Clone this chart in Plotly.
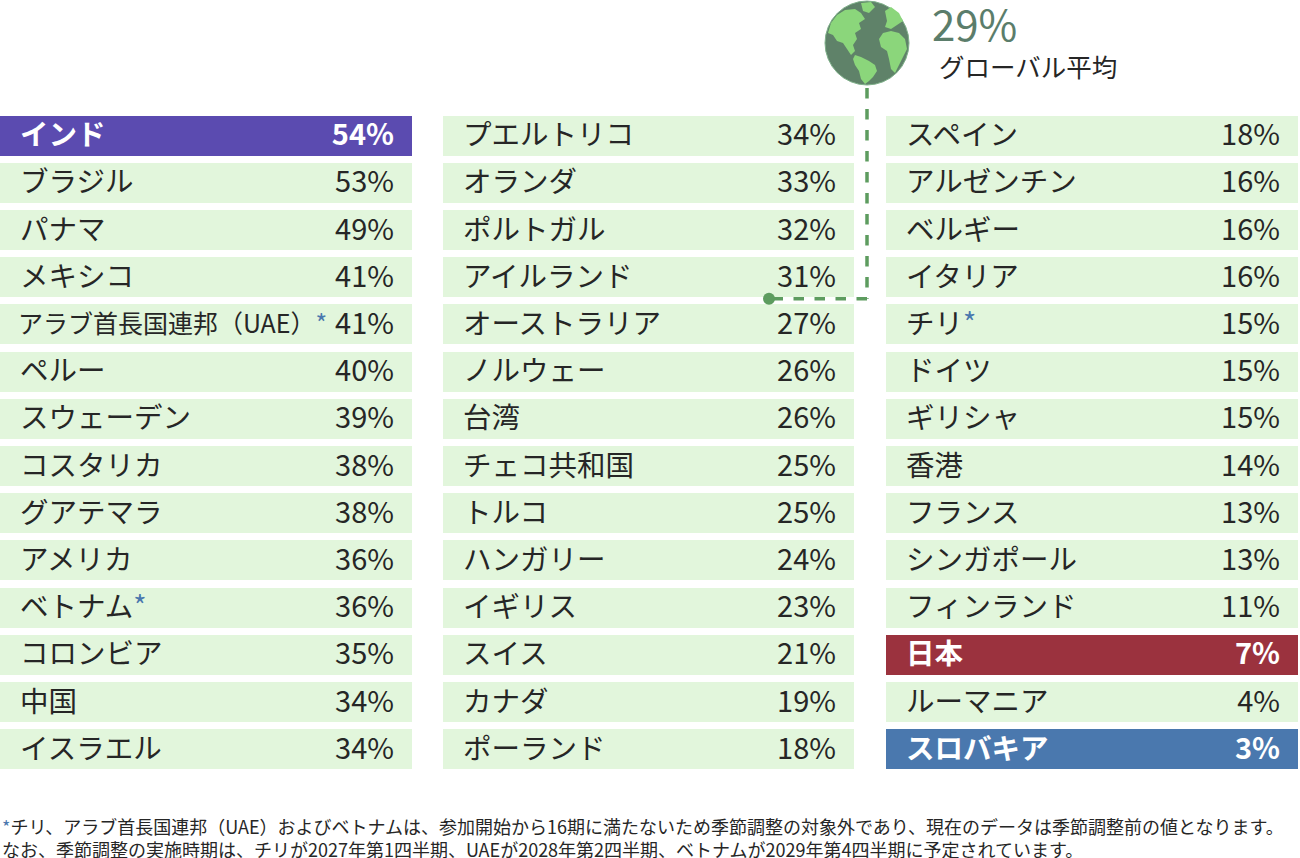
import plotly.graph_objects as go

# ---------------- data ----------------
countries = [
    "インド", "ブラジル", "パナマ", "メキシコ", "アラブ首長国連邦（UAE）*", "ペルー", "スウェーデン",
    "コスタリカ", "グアテマラ", "アメリカ", "ベトナム*", "コロンビア", "中国", "イスラエル",
    "プエルトリコ", "オランダ", "ポルトガル", "アイルランド", "オーストラリア", "ノルウェー", "台湾",
    "チェコ共和国", "トルコ", "ハンガリー", "イギリス", "スイス", "カナダ", "ポーランド",
    "スペイン", "アルゼンチン", "ベルギー", "イタリア", "チリ*", "ドイツ", "ギリシャ",
    "香港", "フランス", "シンガポール", "フィンランド", "日本", "ルーマニア", "スロバキア",
]
values = [
    54, 53, 49, 41, 41, 40, 39, 38, 38, 36, 36, 35, 34, 34,
    34, 33, 32, 31, 27, 26, 26, 25, 25, 24, 23, 21, 19, 18,
    18, 16, 16, 16, 15, 15, 15, 14, 13, 13, 11, 7, 4, 3,
]
highlights = {"インド": "#5b4bb0", "日本": "#9b323e", "スロバキア": "#4a78ae"}
global_avg = 29
global_label = "グローバル平均"
footnote_lines = [
    "<span style='color:#4a78ae'>*</span>チリ、アラブ首長国連邦（UAE）およびベトナムは、参加開始から16期に満たないため季節調整の対象外であり、現在のデータは季節調整前の値となります。",
    "なお、季節調整の実施時期は、チリが2027年第1四半期、UAEが2028年第2四半期、ベトナムが2029年第4四半期に予定されています。",
]

# ---------------- layout constants ----------------
FONT = "Noto Sans CJK JP"
ROWS = 14
ROW_TOP0 = 115.5
PITCH = 47.2
ROW_H = 40
COL_LEFT = [0, 443, 886]
COL_W = [412, 411, 412]
NAME_PAD = 20
VAL_PAD = 18
BG = "#e2f6dc"
TXT = "#262626"
STAR = "<span style='color:#4a78ae'>*</span>"
NAME_SIZE = 28.5
VAL_SIZE = 29
TEXT_DY = 2.5

fig = go.Figure()

for c in range(3):
    names = countries[c * ROWS:(c + 1) * ROWS]
    vals = values[c * ROWS:(c + 1) * ROWS]
    ys = [ROW_TOP0 + PITCH * i + ROW_H / 2 for i in range(len(names))]
    tys = [y + TEXT_DY for y in ys]
    colors = [highlights.get(n, BG) for n in names]
    fig.add_trace(go.Bar(
        orientation="h", y=ys, x=[COL_W[c]] * len(names), base=[COL_LEFT[c]] * len(names),
        width=ROW_H, marker=dict(color=colors, line=dict(width=0)),
        hoverinfo="skip", showlegend=False,
    ))
    name_txt, val_txt, name_col, val_col, name_sz, name_x = [], [], [], [], [], []
    for n, v in zip(names, vals):
        hl = n in highlights
        label = n.replace("*", STAR)
        name_txt.append(f"<b>{label}</b>" if hl else label)
        val_txt.append(f"<b>{v}%</b>" if hl else f"{v}%")
        name_col.append("white" if hl else TXT)
        val_col.append("white" if hl else TXT)
        long = len(n) > 10
        name_sz.append(25 if long else NAME_SIZE)
        name_x.append(COL_LEFT[c] + NAME_PAD - (2 if long else 0))
    fig.add_trace(go.Scatter(
        x=name_x, y=tys,
        mode="text", text=name_txt, textposition="middle right",
        textfont=dict(family=FONT, size=name_sz, color=name_col),
        hoverinfo="skip", showlegend=False,
    ))
    fig.add_trace(go.Scatter(
        x=[COL_LEFT[c] + COL_W[c] - VAL_PAD] * len(vals), y=tys,
        mode="text", text=val_txt, textposition="middle left",
        textfont=dict(family=FONT, size=VAL_SIZE, color=val_col),
        hoverinfo="skip", showlegend=False,
    ))

# ---------------- global average marker ----------------
idx = next(i for i, v in enumerate(values) if v < global_avg)
col = idx // ROWS
row = idx % ROWS
y_mark = ROW_TOP0 + PITCH * row - (PITCH - ROW_H) / 2 - 2
gx, gy, gr = 867, 43, 42
line_x = gx
dot_x = COL_LEFT[col] + COL_W[col] - 85
LINE_C = "#5d9c5f"

shapes = []
shapes.append(dict(type="line", x0=line_x, x1=line_x, y0=gy + gr + 3, y1=y_mark,
                   line=dict(color=LINE_C, width=3.5, dash="dash"), layer="above"))
shapes.append(dict(type="line", x0=line_x, x1=dot_x, y0=y_mark, y1=y_mark,
                   line=dict(color=LINE_C, width=3.5, dash="dash"), layer="above"))
shapes.append(dict(type="circle", x0=dot_x - 6, x1=dot_x + 6, y0=y_mark - 6, y1=y_mark + 6,
                   fillcolor=LINE_C, line=dict(width=0), layer="above"))

# globe
OCEAN = "#5f8269"
LAND = "#8bd67b"
shapes.append(dict(type="circle", x0=gx - gr, x1=gx + gr, y0=gy - gr, y1=gy + gr,
                   fillcolor=OCEAN, line=dict(color="#7fb08a", width=1), layer="above"))


def P(pts):
    return "M " + " L ".join(f"{gx + dx},{gy + dy}" for dx, dy in pts) + " Z"


land_paths = [
    # North America
    [(-36, -20), (-30, -28), (-22, -33), (-12, -34), (-6, -30), (-2, -24), (-8, -20), (-6, -14),
     (-12, -10), (-10, -4), (-14, 2), (-12, 8), (-16, 12), (-20, 6), (-24, 0), (-30, -2),
     (-34, -8), (-39, -10)],
    # Greenland
    [(-6, -40), (4, -41), (8, -36), (2, -30), (-4, -32)],
    # Central / South America
    [(-12, 12), (-6, 14), (2, 18), (8, 22), (10, 28), (6, 34), (2, 38), (-2, 41), (-6, 36),
     (-8, 28), (-12, 22), (-14, 16)],
    # Europe
    [(18, -32), (24, -36), (32, -30), (36, -22), (30, -18), (24, -14), (18, -16), (20, -22)],
    # Africa
    [(16, -10), (24, -12), (32, -10), (38, -4), (40, 6), (36, 14), (32, 22), (28, 30), (24, 26),
     (22, 16), (20, 8), (14, 4), (12, -4)],
]
for pts in land_paths:
    shapes.append(dict(type="path", path=P(pts), fillcolor=LAND, line=dict(width=0), layer="above"))

annotations = [
    dict(x=931, y=22, xref="x", yref="y", text=f"{global_avg}%", showarrow=False, borderpad=0,
         xanchor="left", yanchor="middle", font=dict(family=FONT, size=42, color="#5b7d6b")),
    dict(x=938, y=65, xref="x", yref="y", text=global_label, showarrow=False, borderpad=0,
         xanchor="left", yanchor="middle", font=dict(family=FONT, size=25.5, color=TXT)),
]
for i, line in enumerate(footnote_lines):
    annotations.append(dict(x=1, y=825.5 + 23.5 * i, xref="x", yref="y", text=line, showarrow=False,
                            borderpad=0, xanchor="left", yanchor="middle",
                            font=dict(family=FONT, size=18, color=TXT)))

fig.update_layout(
    width=1300, height=858,
    margin=dict(l=0, r=0, t=0, b=0),
    paper_bgcolor="white", plot_bgcolor="white",
    xaxis=dict(range=[0, 1300], visible=False, fixedrange=True),
    yaxis=dict(range=[858, 0], visible=False, fixedrange=True),
    barmode="overlay", bargap=0,
    shapes=shapes, annotations=annotations,
    showlegend=False,
)

fig.write_html("out.html", config={"displayModeBar": False},
               post_script="document.body.style.margin='0';document.body.style.overflow='hidden';")
